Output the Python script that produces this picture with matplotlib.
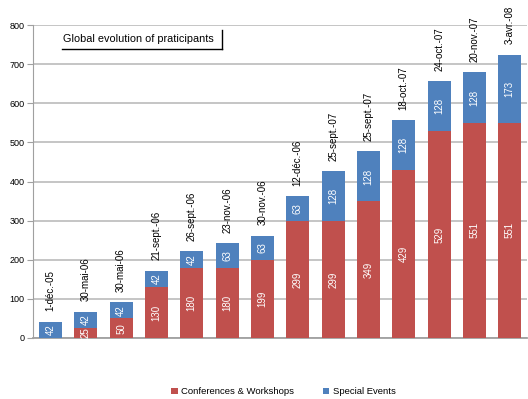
import numpy as np
import matplotlib.pyplot as plt
from matplotlib.lines import Line2D

plt.rcParams['font.family'] = ['Liberation Sans', 'DejaVu Sans']

# Data
dates = ["1-déc.-05", "30-mai-06", "30-mai-06", "21-sept.-06", "26-sept.-06",
         "23-nov.-06", "30-nov.-06", "12-déc.-06", "25-sept.-07", "25-sept.-07",
         "18-oct.-07", "24-oct.-07", "20-nov.-07", "3-avr.-08"]
conferences = [0, 25, 50, 130, 180, 180, 199, 299, 299, 349, 429, 529, 551, 551]
special = [42, 42, 42, 42, 42, 63, 63, 63, 128, 128, 128, 128, 128, 173]

red = "#C0504D"
blue = "#4F81BD"

fig = plt.figure(figsize=(5.28, 3.99), dpi=100)
ax = fig.add_axes([0.062, 0.153, 0.937, 0.784])

x = np.arange(len(dates))
b1 = ax.bar(x, conferences, width=0.65, color=red, label="Conferences & Workshops", zorder=3)
b2 = ax.bar(x, special, width=0.65, bottom=conferences, color=blue, label="Special Events", zorder=3)

# value labels inside segments
for i in range(len(x)):
    if conferences[i] > 0:
        ax.text(x[i], conferences[i] / 2, str(conferences[i]), rotation=90,
                ha="center", va="center", color="white", fontsize=7, zorder=4)
    ax.text(x[i], conferences[i] + special[i] / 2, str(special[i]), rotation=90,
            ha="center", va="center", color="white", fontsize=7, zorder=4)
    # date label above each bar
    ax.annotate(dates[i], (x[i], conferences[i] + special[i]), xytext=(0, 7.5),
                textcoords="offset points", rotation=90, ha="center", va="bottom",
                fontsize=7, annotation_clip=False, zorder=4)

ax.set_xlim(-0.5, 13.5)
ax.set_ylim(0, 800)
ax.set_yticks(range(0, 801, 100))
ax.set_xticks([])
ax.tick_params(axis="y", labelsize=6.5, length=4, color="#A0A0A0", pad=2)
ax.grid(axis="y", color="#C0C0C0", linewidth=1.3, zorder=0)
for s in ["top", "right"]:
    ax.spines[s].set_visible(False)
ax.spines["left"].set_color("#A0A0A0")
ax.spines["bottom"].set_color("#A0A0A0")
ax.spines["bottom"].set_linewidth(1.3)

# title box
fig.text(0.120, 0.902, "Global evolution of praticipants", fontsize=7.8, ha="left", va="center")
fig.add_artist(Line2D([0.118, 0.420], [0.876, 0.876], color="black", linewidth=1))
fig.add_artist(Line2D([0.420, 0.420], [0.876, 0.926], color="black", linewidth=1))

fig.legend(handles=[b1, b2], loc="center", bbox_to_anchor=(0.537, 0.018), ncol=2,
           frameon=False, fontsize=6.8, handlelength=0.7, handleheight=0.7,
           columnspacing=3, handletextpad=0.4)

fig.savefig("out.png", dpi=100)
